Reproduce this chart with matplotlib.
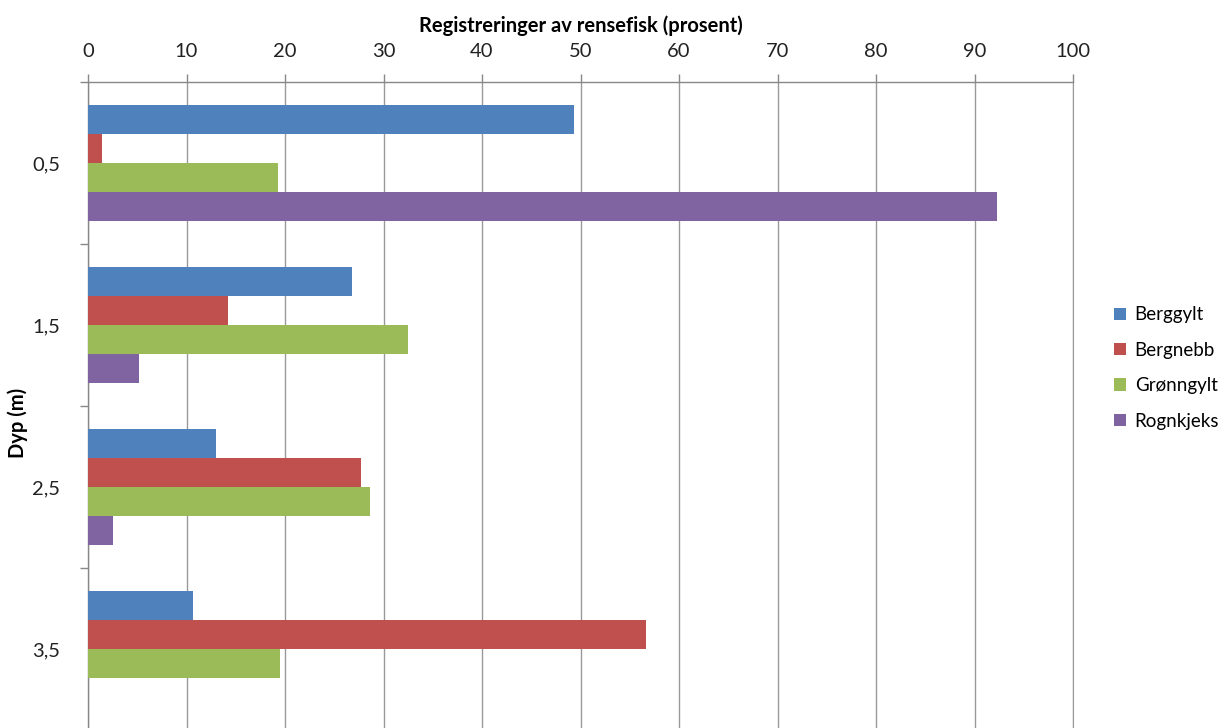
"""Horizontal grouped bars: registreringer av rensefisk per dyp (Excel-style)."""
import numpy as np
import matplotlib
matplotlib.use("Agg")
import matplotlib.pyplot as plt
from matplotlib.ticker import MultipleLocator, FixedLocator

plt.rcParams["font.family"] = ["Lato", "DejaVu Sans"]

DEPTHS = ["0,5", "1,5", "2,5", "3,5"]
SPECIES = ["Berggylt", "Bergnebb", "Grønngylt", "Rognkjeks"]
BERGGYLT = [49.3, 26.8, 13.0, 10.7]
BERGNEBB = [1.4, 14.2, 27.7, 56.6]
GRONNGYLT = [19.3, 32.5, 28.6, 19.5]
ROGNKJEKS = [92.3, 5.2, 2.5, 0.0]
COLORS = ["#4F81BD", "#C0504D", "#9BBB59", "#8064A2"]

W, H = 1227, 728
fig = plt.figure(figsize=(W / 100, H / 100), dpi=100)
# plot area: x 88..1073 px, y 82..730 px (bottom just cropped off like the source)
ax = fig.add_axes([88 / W, 1 - 730 / H, 985 / W, 648 / H])

series = [BERGGYLT, BERGNEBB, GRONNGYLT, ROGNKJEKS]
y = np.arange(len(DEPTHS))
bh = 0.18
for i, (vals, name, col) in enumerate(zip(series, SPECIES, COLORS)):
    ax.barh(y + (i - 1.5) * bh, vals, height=bh, color=col, label=name,
            zorder=3, lw=0)

FS = 14.5
ax.set_xlim(0, 100)
ax.set_ylim(len(DEPTHS) - 0.5, -0.5)
ax.xaxis.set_major_locator(MultipleLocator(10))
ax.xaxis.tick_top()
ax.xaxis.set_label_position("top")
ax.set_yticks(y)
ax.set_yticklabels(DEPTHS)
ax.yaxis.set_minor_locator(FixedLocator(np.arange(-0.5, len(DEPTHS), 1.0)))
ax.tick_params(axis="y", which="major", length=0, pad=20, labelsize=FS,
               labelcolor="#222222")
ax.tick_params(axis="y", which="minor", length=6, color="#888888", width=1)
ax.tick_params(axis="x", which="major", length=6, color="#888888", width=1,
               pad=10, labelsize=FS, labelcolor="#222222")
ax.grid(axis="x", color="#999999", lw=1, zorder=0)
ax.spines["bottom"].set_visible(False)
ax.spines["right"].set_color("#999999")
for side in ("top", "left"):
    ax.spines[side].set_color("#888888")
    ax.spines[side].set_linewidth(1)

ax.set_xlabel("Registreringer av rensefisk (prosent)", fontsize=FS,
              fontweight="bold", labelpad=8)
fig.text(18 / W, 1 - 423 / H, "Dyp (m)", rotation=90, fontsize=FS,
         fontweight="bold", ha="center", va="center")

fig.legend(loc="center left", bbox_to_anchor=(1114 / W, 1 - 368 / H),
           frameon=False, fontsize=13.5, handlelength=0.65, handleheight=0.65,
           handletextpad=0.45, labelspacing=0.98, borderpad=0,
           borderaxespad=0)

fig.savefig("out.png", dpi=100)
